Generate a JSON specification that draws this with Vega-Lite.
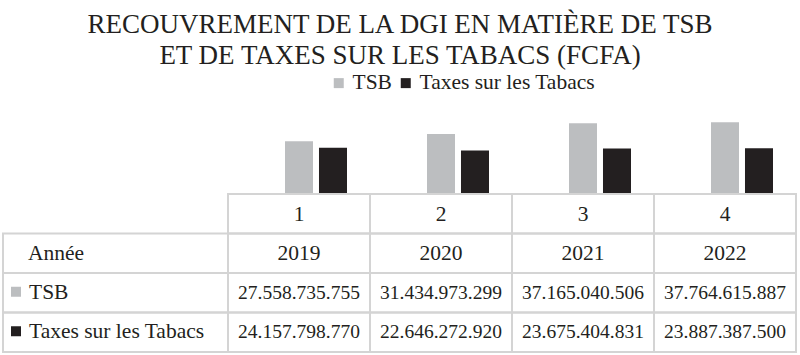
{
  "$schema": "https://vega.github.io/schema/vega-lite/v6.json",
  "width": 800,
  "height": 355,
  "padding": 0,
  "autosize": {"type": "none"},
  "background": "white",
  "config": {
    "view": {"stroke": null},
    "font": "Liberation Serif, Times New Roman, serif",
    "locale": {"number": {"decimal": ",", "thousands": ".", "grouping": [3], "currency": ["", ""]}},
    "text": {"font": "Liberation Serif, Times New Roman, serif", "fontSize": 21.5, "color": "#231f20", "baseline": "middle"}
  },
  "title": {
    "text": ["RECOUVREMENT DE LA DGI EN MATIÈRE DE TSB", "ET DE TAXES SUR LES TABACS (FCFA)"],
    "font": "Liberation Serif, Times New Roman, serif",
    "fontSize": 27,
    "fontWeight": "normal",
    "color": "#231f20",
    "lineHeight": 31,
    "anchor": "middle",
    "frame": "group",
    "orient": "top",
    "offset": -70
  },
  "data": {
    "values": [
      {"year": "2019", "idx": "1", "serie": "TSB", "value": 27558735755},
      {"year": "2019", "idx": "1", "serie": "Taxes sur les Tabacs", "value": 24157798770},
      {"year": "2020", "idx": "2", "serie": "TSB", "value": 31434973299},
      {"year": "2020", "idx": "2", "serie": "Taxes sur les Tabacs", "value": 22646272920},
      {"year": "2021", "idx": "3", "serie": "TSB", "value": 37165040506},
      {"year": "2021", "idx": "3", "serie": "Taxes sur les Tabacs", "value": 23675404831},
      {"year": "2022", "idx": "4", "serie": "TSB", "value": 37764615887},
      {"year": "2022", "idx": "4", "serie": "Taxes sur les Tabacs", "value": 23887387500}
    ]
  },
  "resolve": {"scale": {"x": "independent", "y": "independent"}},
  "layer": [
    {
      "mark": {"type": "bar"},
      "encoding": {
        "x": {"field": "year", "type": "nominal", "axis": null,
              "scale": {"type": "band", "domain": ["2019", "2020", "2021", "2022"], "range": [228, 796], "paddingInner": 0, "paddingOuter": 0}},
        "xOffset": {"field": "serie", "type": "nominal",
              "scale": {"domain": ["TSB", "Taxes sur les Tabacs"], "range": [57, 119], "paddingInner": 0.176, "paddingOuter": 0}},
        "y": {"field": "value", "type": "quantitative", "axis": null,
              "scale": {"domain": [0, 40000000000], "range": [193, 118], "nice": false}},
        "color": {"field": "serie", "type": "nominal",
              "scale": {"domain": ["TSB", "Taxes sur les Tabacs"], "range": ["#bcbec0", "#231f20"]},
              "legend": {"orient": "none", "legendX": 328, "legendY": 72, "direction": "horizontal", "title": null,
                         "symbolType": "square", "symbolSize": 100, "symbolStrokeWidth": 0, "symbolOpacity": 1,
                         "labelFont": "Liberation Serif, Times New Roman, serif", "labelFontSize": 21.5, "labelColor": "#231f20",
                         "labelOffset": 3, "columnPadding": 3, "padding": 0, "labelLimit": 400}}
      }
    },
    {
      "layer": [
        {
          "mark": {"type": "rect", "filled": false, "color": "#d4d4d4", "strokeWidth": 2},
          "encoding": {
            "x": {"field": "year", "type": "nominal", "axis": null,
                  "scale": {"type": "band", "domain": ["2019", "2020", "2021", "2022"], "range": [228, 796], "paddingInner": 0, "paddingOuter": 0}},
            "y": {"field": "serie", "type": "nominal", "axis": null,
                  "scale": {"type": "band", "domain": ["h", "Année", "TSB", "Taxes sur les Tabacs"], "range": [194, 352], "paddingInner": 0, "paddingOuter": 0}}
          }
        },
        {
          "transform": [{"filter": "datum.serie === 'TSB'"}],
          "mark": {"type": "rect", "filled": false, "color": "#d4d4d4", "strokeWidth": 2},
          "encoding": {
            "x": {"field": "year", "type": "nominal", "axis": null},
            "y": {"datum": "h", "type": "nominal", "axis": null}
          }
        },
        {
          "transform": [{"filter": "datum.serie === 'TSB'"}],
          "mark": {"type": "rect", "filled": false, "color": "#d4d4d4", "strokeWidth": 2},
          "encoding": {
            "x": {"field": "year", "type": "nominal", "axis": null},
            "y": {"datum": "Année", "type": "nominal", "axis": null}
          }
        },
        {
          "transform": [{"filter": "datum.serie === 'TSB'"}],
          "mark": {"type": "text", "align": "center", "dy": 1},
          "encoding": {
            "x": {"field": "year", "type": "nominal", "axis": null},
            "y": {"datum": "h", "type": "nominal", "axis": null},
            "text": {"field": "idx", "type": "nominal"}
          }
        },
        {
          "transform": [{"filter": "datum.serie === 'TSB'"}],
          "mark": {"type": "text", "align": "center", "dy": 1},
          "encoding": {
            "x": {"field": "year", "type": "nominal", "axis": null},
            "y": {"datum": "Année", "type": "nominal", "axis": null},
            "text": {"field": "year", "type": "nominal"}
          }
        },
        {
          "mark": {"type": "text", "align": "center", "fontSize": 19.5},
          "encoding": {
            "x": {"field": "year", "type": "nominal", "axis": null},
            "y": {"field": "serie", "type": "nominal", "axis": null},
            "text": {"field": "value", "type": "quantitative", "format": ",d"}
          }
        }
      ]
    },
    {
      "transform": [{"filter": "datum.year === '2019'"}],
      "layer": [
        {
          "mark": {"type": "rect", "filled": false, "color": "#d4d4d4", "strokeWidth": 2},
          "encoding": {
            "x": {"datum": "label", "type": "nominal", "axis": null,
                  "scale": {"type": "band", "domain": ["label"], "range": [3, 228], "paddingInner": 0, "paddingOuter": 0}},
            "y": {"field": "serie", "type": "nominal", "axis": null,
                  "scale": {"type": "band", "domain": ["h", "Année", "TSB", "Taxes sur les Tabacs"], "range": [194, 352], "paddingInner": 0, "paddingOuter": 0}}
          }
        },
        {
          "transform": [{"filter": "datum.serie === 'TSB'"}],
          "mark": {"type": "rect", "filled": false, "color": "#d4d4d4", "strokeWidth": 2},
          "encoding": {
            "x": {"datum": "label", "type": "nominal", "axis": null},
            "y": {"datum": "Année", "type": "nominal", "axis": null}
          }
        },
        {
          "transform": [{"filter": "datum.serie === 'TSB'"}],
          "mark": {"type": "text", "align": "left", "dx": 25, "dy": 1},
          "encoding": {
            "x": {"datum": "label", "type": "nominal", "axis": null, "bandPosition": 0},
            "y": {"datum": "Année", "type": "nominal", "axis": null},
            "text": {"value": "Année"}
          }
        },
        {
          "mark": {"type": "text", "align": "left", "dx": 26},
          "encoding": {
            "x": {"datum": "label", "type": "nominal", "axis": null, "bandPosition": 0},
            "y": {"field": "serie", "type": "nominal", "axis": null},
            "text": {"field": "serie", "type": "nominal"}
          }
        },
        {
          "mark": {"type": "point", "shape": "square", "filled": true, "size": 100, "opacity": 1, "xOffset": 13, "yOffset": -1},
          "encoding": {
            "x": {"datum": "label", "type": "nominal", "axis": null, "bandPosition": 0},
            "y": {"field": "serie", "type": "nominal", "axis": null},
            "color": {"field": "serie", "type": "nominal"}
          }
        }
      ]
    }
  ]
}
